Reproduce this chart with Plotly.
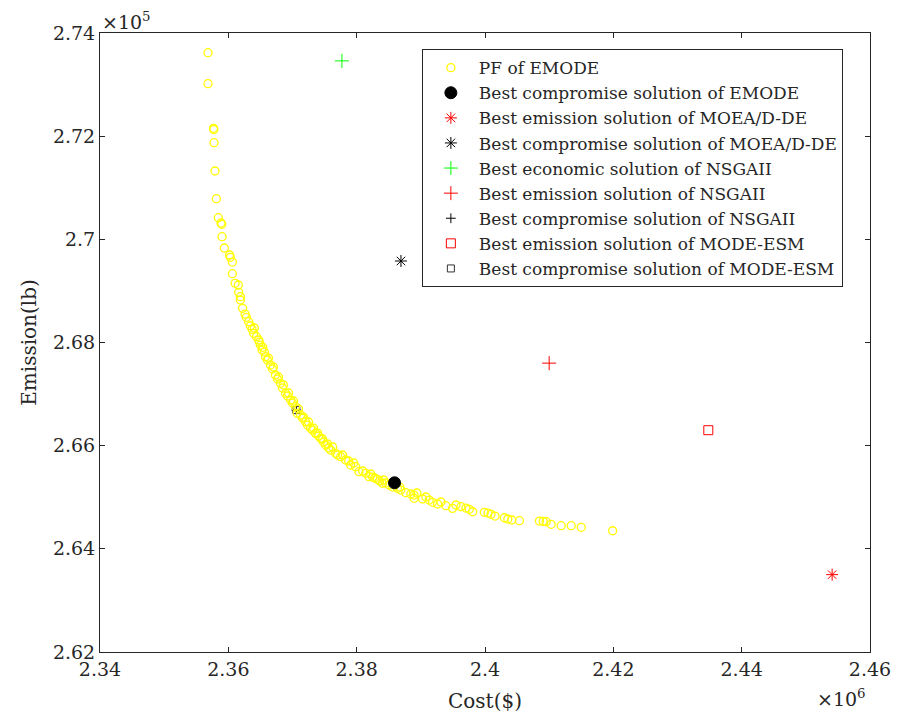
import plotly.graph_objects as go

# Pareto front of EMODE (cost in $, emission in lb)
pf_cost = [2.35683, 2.35683, 2.35770, 2.35773, 2.35777, 2.35792, 2.35813, 2.35844, 2.35886, 2.35898,
           2.35902, 2.35938, 2.36020, 2.36031, 2.36063, 2.36063, 2.36105, 2.36156, 2.36161, 2.36188,
           2.36188, 2.36223, 2.36261, 2.36281, 2.36317, 2.36344, 2.36370, 2.36395, 2.36438, 2.36473,
           2.36500, 2.36536, 2.36527, 2.36578, 2.36609, 2.36656, 2.36688, 2.36734, 2.36766, 2.36813,
           2.36844, 2.36891, 2.36922, 2.36969, 2.37000, 2.37047, 2.37073, 2.37125, 2.37156, 2.37203,
           2.37234, 2.37281, 2.37313, 2.37359, 2.37406, 2.37438, 2.37484, 2.37516, 2.37563, 2.37594,
           2.37672, 2.37703, 2.37750, 2.37828, 2.37906, 2.37984, 2.38036, 2.38094, 2.38141, 2.38192,
           2.38250, 2.38323, 2.38359, 2.38402, 2.38453, 2.38505, 2.38563, 2.38636, 2.38688, 2.38766,
           2.38844, 2.38895, 2.38895, 2.39027, 2.39130, 2.39183, 2.39261, 2.39391, 2.39495, 2.39625,
           2.39703, 2.39755, 2.39808, 2.39989, 2.40047, 2.40094, 2.40156, 2.40302, 2.40355, 2.40417,
           2.40536, 2.40848, 2.40906, 2.40953, 2.41031, 2.41188, 2.41344, 2.41500, 2.41989,
           2.36406, 2.36484, 2.36563, 2.36625, 2.36703, 2.36781, 2.36859, 2.36938, 2.37016, 2.37094,
           2.37172, 2.37250, 2.37328, 2.37391, 2.37469, 2.37547, 2.37625, 2.37781, 2.37875, 2.37953,
           2.38219, 2.38281, 2.38422, 2.38672, 2.38938, 2.39078, 2.39313, 2.39547]
pf_emis = [2.73618, 2.73017, 2.72152, 2.72129, 2.71873, 2.71325, 2.70788, 2.70419, 2.70317, 2.70291,
           2.70051, 2.69832, 2.69696, 2.69652, 2.69560, 2.69334, 2.69147, 2.69115, 2.68973, 2.68888,
           2.68824, 2.68663, 2.68552, 2.68488, 2.68403, 2.68325, 2.68256, 2.68178, 2.68112, 2.68048,
           2.67951, 2.67907, 2.67855, 2.67725, 2.67661, 2.67564, 2.67486, 2.67370, 2.67292, 2.67209,
           2.67118, 2.67015, 2.66963, 2.66885, 2.66827, 2.66755, 2.66627, 2.66594, 2.66536, 2.66464,
           2.66400, 2.66336, 2.66303, 2.66239, 2.66187, 2.66143, 2.66071, 2.66013, 2.65955, 2.65916,
           2.65852, 2.65819, 2.65786, 2.65722, 2.65625, 2.65592, 2.65495, 2.65509, 2.65464, 2.65398,
           2.65392, 2.65348, 2.65315, 2.65270, 2.65276, 2.65237, 2.65198, 2.65173, 2.65140, 2.65088,
           2.65063, 2.65043, 2.64979, 2.64966, 2.64946, 2.64902, 2.64869, 2.64836, 2.64785, 2.64817,
           2.64791, 2.64766, 2.64719, 2.64708, 2.64694, 2.64669, 2.64636, 2.64603, 2.64578, 2.64559,
           2.64545, 2.64539, 2.64533, 2.64526, 2.64475, 2.64448, 2.64448, 2.64417, 2.64351,
           2.68281, 2.68009, 2.67816, 2.67699, 2.67525, 2.67331, 2.67176, 2.67021, 2.66866, 2.66711,
           2.66555, 2.66459, 2.66342, 2.66245, 2.66129, 2.66032, 2.65974, 2.65819, 2.65703, 2.65664,
           2.65451, 2.65373, 2.65334, 2.65198, 2.65082, 2.65005, 2.64908, 2.64850]
pf_cost = [c * 1e6 for c in pf_cost]
pf_emis = [e * 1e5 for e in pf_emis]

# Single solutions: (cost $, emission lb)
names = ["Best compromise solution of EMODE",
         "Best emission solution of MOEA/D-DE",
         "Best compromise solution of MOEA/D-DE",
         "Best economic solution of NSGAII",
         "Best emission solution of NSGAII",
         "Best compromise solution of NSGAII",
         "Best emission solution of MODE-ESM",
         "Best compromise solution of MODE-ESM"]
sol_cost = [2.3859e6, 2.4541e6, 2.3869e6, 2.3777e6, 2.4100e6, 2.3706e6, 2.4348e6, 2.3706e6]
sol_emis = [2.6528e5, 2.6350e5, 2.6958e5, 2.7346e5, 2.6760e5, 2.6669e5, 2.6630e5, 2.6669e5]
symbols = ["circle", "asterisk-open", "asterisk-open", "cross-thin-open", "cross-thin-open",
           "cross-thin-open", "square-open", "square-open"]
colors = ["black", "#FF0000", "black", "#00FF00", "#FF0000", "black", "#FF0000", "#333333"]
sizes = [12, 10, 10, 10, 10, 7, 9, 7]

x_ticks = [2.34, 2.36, 2.38, 2.40, 2.42, 2.44, 2.46]
x_ticktext = ["2.34", "2.36", "2.38", "2.4", "2.42", "2.44", "2.46"]
y_ticks = [2.62, 2.64, 2.66, 2.68, 2.70, 2.72, 2.74]
y_ticktext = ["2.62", "2.64", "2.66", "2.68", "2.7", "2.72", "2.74"]

FONT = "DejaVu Serif"
INK = "#262626"

fig = go.Figure()

# compromise markers that sit inside the front are drawn first (legend order via legendrank)
for i in [5, 7]:
    fig.add_trace(go.Scatter(
        x=[sol_cost[i] / 1e6], y=[sol_emis[i] / 1e5], mode="markers", name=names[i],
        legendrank=10 + i,
        marker=dict(symbol=symbols[i], size=sizes[i], color=colors[i],
                    line=dict(color=colors[i], width=1))))

fig.add_trace(go.Scatter(
    x=[c / 1e6 for c in pf_cost], y=[e / 1e5 for e in pf_emis], mode="markers",
    name="PF of EMODE", legendrank=1,
    marker=dict(symbol="circle-open", size=8, color="#FFFF00",
                line=dict(color="#FFFF00", width=1.3))))

for i in [0, 1, 2, 3, 4, 6]:
    fig.add_trace(go.Scatter(
        x=[sol_cost[i] / 1e6], y=[sol_emis[i] / 1e5], mode="markers", name=names[i],
        legendrank=10 + i,
        marker=dict(symbol=symbols[i], size=sizes[i], color=colors[i],
                    line=dict(color=colors[i], width=1))))

axis_common = dict(showgrid=False, zeroline=False, showline=True, linecolor=INK,
                   linewidth=1, mirror="ticks", ticks="inside", ticklen=5,
                   tickcolor=INK, automargin=False,
                   tickfont=dict(family=FONT, size=19, color=INK))

# the page body adds an 8px offset, so the figure is sized to sit inside the window
fig.update_layout(
    width=888, height=705,
    margin=dict(l=92, r=26, t=25, b=61),
    paper_bgcolor="white", plot_bgcolor="white",
    font=dict(family=FONT, color=INK),
    xaxis=dict(range=[2.34, 2.46], tickvals=x_ticks, ticktext=x_ticktext,
               title=dict(text="Cost($)", font=dict(family=FONT, size=20, color=INK), standoff=18),
               **axis_common),
    yaxis=dict(range=[2.62, 2.74], tickvals=y_ticks, ticktext=y_ticktext,
               title=dict(text="Emission(lb)", font=dict(family=FONT, size=20, color=INK), standoff=10),
               **axis_common),
    legend=dict(x=0.418, y=0.974, xanchor="left", yanchor="top",
                bgcolor="white", bordercolor=INK, borderwidth=1,
                font=dict(family=FONT, size=17, color=INK),
                itemwidth=46),
    showlegend=True,
    annotations=[
        dict(text="×10<sup>5</sup>", x=0, y=1, xref="paper", yref="paper",
             xanchor="left", yanchor="bottom", showarrow=False,
             font=dict(family=FONT, size=19, color=INK), yshift=-2),
        dict(text="×10<sup>6</sup>", x=1, y=0, xref="paper", yref="paper",
             xanchor="right", yanchor="top", showarrow=False,
             font=dict(family=FONT, size=19, color=INK), yshift=-32, xshift=-2),
    ],
)

fig.write_html("out.html")
